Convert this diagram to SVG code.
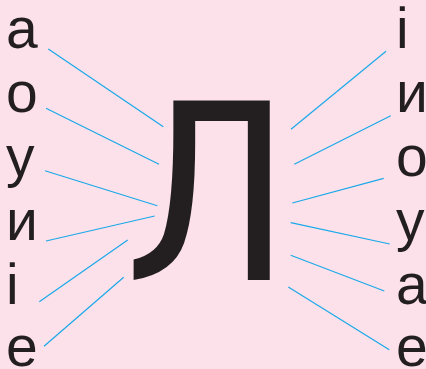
<svg xmlns="http://www.w3.org/2000/svg" width="426" height="369" viewBox="0 0 426 369">
<style>
.t{font-family:"Liberation Sans",Arial,sans-serif;font-size:57px;fill:#231f20}
.big{font-family:"DejaVu Sans",sans-serif;font-size:247px;fill:#231f20}
.c line{stroke:#1aa9e8;stroke-width:1.2}
</style>
<rect width="426" height="369" fill="#fce1eb"/>
<g id="center"><text class="big" transform="translate(202 280) scale(0.9 1)" x="6.7" y="0" text-anchor="middle">Л</text></g>
<g id="left">
<g id="l1"><text class="t" x="6" y="48">а</text></g>
<g id="l2"><text class="t" x="6" y="112">о</text></g>
<g id="l3"><text class="t" x="6" y="176">у</text></g>
<g id="l4"><text class="t" x="6" y="240">и</text></g>
<g id="l5"><text class="t" x="6" y="304">і</text></g>
<g id="l6"><text class="t" x="6" y="366">е</text></g>
</g>
<g id="right">
<g id="r1"><text class="t" x="396" y="48">і</text></g>
<g id="r2"><text class="t" x="396" y="112">и</text></g>
<g id="r3"><text class="t" x="396" y="176">о</text></g>
<g id="r4"><text class="t" x="396" y="240">у</text></g>
<g id="r5"><text class="t" x="396" y="304">а</text></g>
<g id="r6"><text class="t" x="396" y="366">е</text></g>
</g>
<g id="connectors" class="c">
<line x1="48.3" y1="49" x2="163.3" y2="126.7"/>
<line x1="46" y1="108.3" x2="159" y2="164.3"/>
<line x1="45" y1="170.7" x2="157.3" y2="205.7"/>
<line x1="46" y1="241" x2="154.7" y2="216"/>
<line x1="39.3" y1="301.7" x2="127.7" y2="240"/>
<line x1="44" y1="346.3" x2="123.7" y2="277.3"/>
<line x1="291" y1="129.3" x2="386" y2="51.3"/>
<line x1="294.3" y1="164.3" x2="390.7" y2="115.7"/>
<line x1="292.3" y1="203" x2="383.7" y2="178.3"/>
<line x1="290.7" y1="222.7" x2="389.7" y2="244"/>
<line x1="290.7" y1="255.3" x2="384.3" y2="291"/>
<line x1="288.3" y1="287" x2="389.3" y2="349.7"/>
</g>
</svg>
